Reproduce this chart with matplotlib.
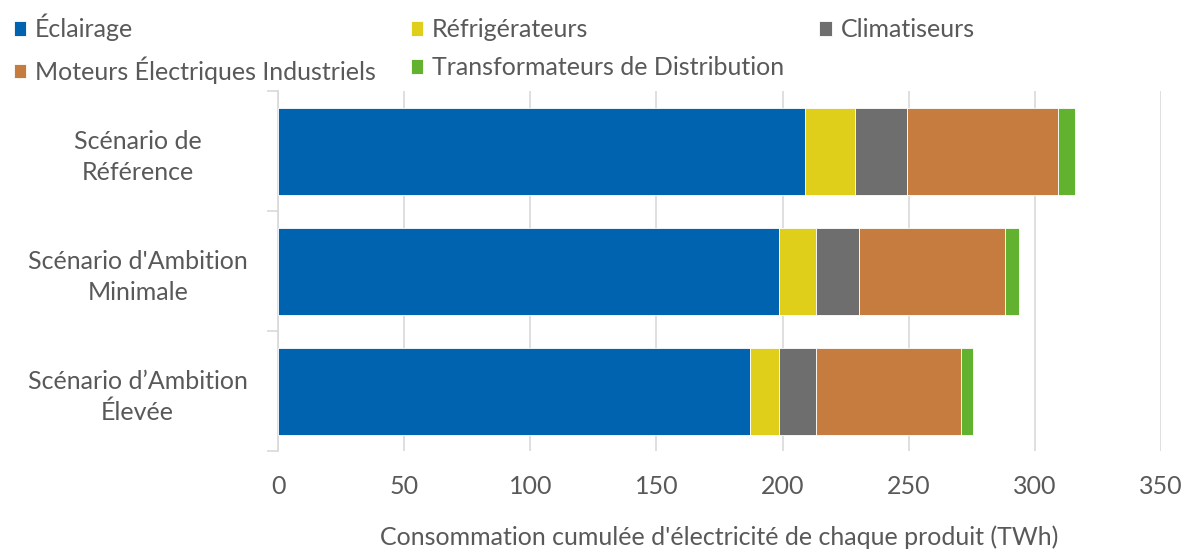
import matplotlib
matplotlib.use("Agg")
import matplotlib.pyplot as plt
import numpy as np

categories = ["Scénario de\nRéférence", "Scénario d'Ambition\nMinimale", "Scénario d’Ambition\nÉlevée"]
series_names = ["Éclairage", "Réfrigérateurs", "Climatiseurs",
                "Moteurs Électriques Industriels", "Transformateurs de Distribution"]
eclairage = [209.0, 198.4, 187.2]
refrigerateurs = [19.7, 14.9, 11.2]
climatiseurs = [20.6, 17.0, 15.0]
moteurs = [59.7, 57.9, 57.4]
transformateurs = [6.8, 5.7, 4.8]
xticks = [0, 50, 100, 150, 200, 250, 300, 350]
xlabel = "Consommation cumulée d'électricité de chaque produit (TWh)"

colors = ["#0063AF", "#E0CF1A", "#6E6E6E", "#C67C3F", "#62B22F"]
series = [eclairage, refrigerateurs, climatiseurs, moteurs, transformateurs]

plt.rcParams['font.family'] = ['Lato', 'DejaVu Sans']
txt = "#595959"
grid_c = "#D9D9D9"
FS = 18

fig = plt.figure(figsize=(11.88, 5.53), dpi=100)
ax = fig.add_axes([278/1188, 1-451/553, (1161-278)/1188, (451-91)/553])

y = np.arange(len(categories))
left = np.zeros(len(categories))
handles = []
for name, vals, c in zip(series_names, series, colors):
    b = ax.barh(y, vals, left=left, height=0.725, color=c, edgecolor="white",
                linewidth=0.6, label=name, zorder=3)
    handles.append(b)
    left += np.array(vals)

ax.set_ylim(len(categories) - 0.5, -0.5)
ax.set_xlim(0, 350)
ax.set_xticks(xticks)
ax.set_xticklabels([str(t) for t in xticks])
ax.set_yticks(y)
ax.set_yticklabels(categories, ha="center", multialignment="center", linespacing=1.4)
ax.set_yticks([-0.5, 0.5, 1.5, 2.5], minor=True)

for s in ["top", "right", "bottom"]:
    ax.spines[s].set_visible(False)
ax.spines["left"].set_color(grid_c)
ax.spines["left"].set_linewidth(1.2)
ax.xaxis.grid(True, color=grid_c, linewidth=1.2, zorder=0)
ax.tick_params(axis="x", length=0, labelsize=FS, colors=txt, pad=17)
ax.tick_params(axis="y", which="major", length=0, labelsize=FS, colors=txt, pad=101)
ax.tick_params(axis="y", which="minor", length=8, width=1.2, color=grid_c)
ax.set_xlabel(xlabel, fontsize=FS, color=txt, labelpad=20)

order = [0, 3, 1, 4, 2]
leg = fig.legend([handles[i] for i in order], [series_names[i] for i in order],
                 ncol=3, loc="upper left", bbox_to_anchor=(0.0, 1.0),
                 frameon=False, fontsize=FS, handlelength=0.5, handleheight=0.5,
                 handletextpad=0.35, columnspacing=1.4, labelspacing=0.6,
                 borderaxespad=0.2, borderpad=0.35)
for t in leg.get_texts():
    t.set_color(txt)

fig.savefig("out.png", dpi=100)
